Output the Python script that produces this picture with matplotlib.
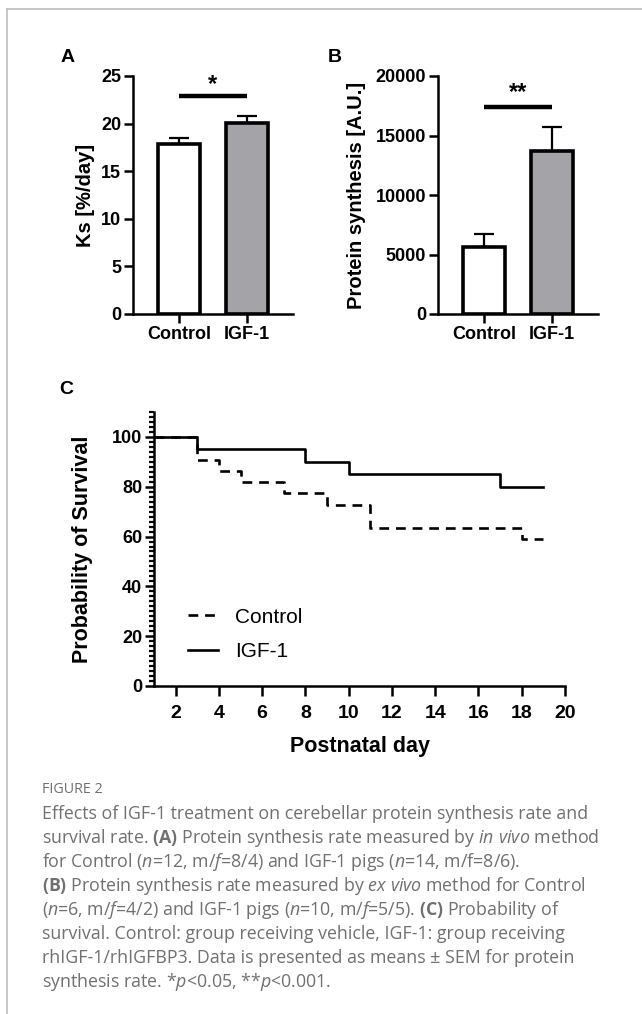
import matplotlib
matplotlib.use("Agg")
import matplotlib.pyplot as plt
from matplotlib.lines import Line2D

plt.rcParams['font.family'] = ['Liberation Sans', 'DejaVu Sans']
plt.rcParams['mathtext.fontset'] = 'custom'
plt.rcParams['mathtext.rm'] = 'Open Sans'
plt.rcParams['mathtext.it'] = 'Open Sans:italic'
plt.rcParams['mathtext.bf'] = 'Open Sans:bold'

# --- data ---
groups = ['Control', 'IGF-1']
ks_mean = [17.9, 20.1]
ks_sem = [0.6, 0.7]
ps_mean = [5600, 13700]
ps_sem = [1100, 2000]

ctrl_days = [1, 3, 4, 5, 7, 9, 11, 18, 19]
ctrl_surv = [100, 90.9, 86.4, 81.8, 77.3, 72.7, 63.6, 59.1, 59.1]
igf_days = [1, 3, 8, 10, 17, 19]
igf_surv = [100, 95, 90, 85, 80, 80]

bar_colors = ['white', '#a3a3a8']

fig = plt.figure(figsize=(6.42, 10.14), dpi=100)
W, H = 642.0, 1014.0

def box(l, t, r, b):
    return [l / W, 1 - b / H, (r - l) / W, (b - t) / H]

def style_axes(ax, size=13):
    for s in ['top', 'right']:
        ax.spines[s].set_visible(False)
    for s in ['left', 'bottom']:
        ax.spines[s].set_linewidth(1.8)
    ax.tick_params(width=1.8, length=6.5, labelsize=size, pad=2)

def bold_ticks(ax):
    for lab in ax.get_xticklabels() + ax.get_yticklabels():
        lab.set_fontweight('bold')

def bar_panel(ax, means, sems, ymax, ystep, ylabel, sig_y, star_y, stars):
    x = [0, 1]
    ax.errorbar(x, means, yerr=[[0, 0], sems], fmt='none', ecolor='black',
                elinewidth=1.6, capsize=7.5, capthick=1.6, zorder=1)
    ax.bar(x, means, width=0.62, color=bar_colors, edgecolor='black',
           linewidth=2.6, zorder=2)
    ax.plot([0, 1], [sig_y, sig_y], color='black', lw=3.2, solid_capstyle='butt')
    ax.text(0.5, star_y, stars, ha='center', va='baseline', fontsize=17,
            fontweight='bold', clip_on=False)
    ax.set_xlim(-0.676, 1.676)
    ax.set_ylim(0, ymax)
    ax.set_yticks(range(0, ymax + 1, ystep))
    ax.set_xticks(x)
    ax.set_xticklabels(groups)
    ax.set_ylabel(ylabel, fontsize=14.5, fontweight='bold')
    style_axes(ax)
    bold_ticks(ax)

axA = fig.add_axes(box(133, 76, 293, 314))
bar_panel(axA, ks_mean, ks_sem, 25, 5, 'Ks [%/day]', 22.9, 23.4, '*')
axA.yaxis.set_label_coords(-0.24, 0.5)

axB = fig.add_axes(box(438, 76, 598, 314))
bar_panel(axB, ps_mean, ps_sem, 20000, 5000, 'Protein synthesis [A.U.]', 17400, 18100, '**')
axB.yaxis.set_label_coords(-0.45, 0.5)

# --- survival panel ---
axC = fig.add_axes(box(154, 412, 565, 686))
axC.step(ctrl_days, ctrl_surv, where='post', color='black', lw=1.9,
         linestyle=(0, (3.7, 2.6)), label='Control')
axC.step(igf_days, igf_surv, where='post', color='black', lw=1.9, label='IGF-1')
axC.set_xlim(1, 20)
axC.set_ylim(0, 110)
axC.set_xticks(range(2, 21, 2))
axC.set_yticks(range(0, 101, 20))
axC.set_yticks(range(0, 111, 2), minor=True)
axC.set_xlabel('Postnatal day', fontsize=15.5, fontweight='bold', labelpad=10)
axC.set_ylabel('Probability of Survival', fontsize=15.5, fontweight='bold')
axC.yaxis.set_label_coords(-0.148, 0.5)
style_axes(axC)
axC.tick_params(axis='x', labelsize=14, pad=6, length=7.5)
axC.tick_params(axis='y', which='minor', length=3.5, width=1.6)
bold_ticks(axC)
axC.legend(loc='center left', bbox_to_anchor=(0.083, 0.188), frameon=False,
           fontsize=15, handlelength=1.45, handletextpad=0.8, labelspacing=0.75,
           borderpad=0, borderaxespad=0)

# panel letters
fig.text(61 / W, 1 - 62 / H, 'A', fontsize=14, fontweight='bold')
fig.text(328 / W, 1 - 62 / H, 'B', fontsize=14, fontweight='bold')
fig.text(59 / W, 1 - 394 / H, 'C', fontsize=14, fontweight='bold')

# frame
fig.add_artist(Line2D([7 / W, 7 / W], [0, 1 - 9 / H], color='#bdbdbd', lw=1.2))
fig.add_artist(Line2D([7 / W, 1], [1 - 9 / H, 1 - 9 / H], color='#bdbdbd', lw=1.2))

# caption
cap_color = '#707070'
fig.text(42 / W, 1 - 793 / H, 'FIGURE 2', fontsize=10.3, color=cap_color,
         family='Open Sans')
caption = [
    r'Effects of IGF-1 treatment on cerebellar protein synthesis rate and',
    r'survival rate. $\mathbf{(A)}$ Protein synthesis rate measured by $\mathit{in\ vivo}$ method',
    r'for Control ($\mathit{n}$=12, m/$\mathit{f}$=8/4) and IGF-1 pigs ($\mathit{n}$=14, m/f=8/6).',
    r'$\mathbf{(B)}$ Protein synthesis rate measured by $\mathit{ex\ vivo}$ method for Control',
    r'($\mathit{n}$=6, m/$\mathit{f}$=4/2) and IGF-1 pigs ($\mathit{n}$=10, m/$\mathit{f}$=5/5). $\mathbf{(C)}$ Probability of',
    r'survival. Control: group receiving vehicle, IGF-1: group receiving',
    r'rhIGF-1/rhIGFBP3. Data is presented as means ± SEM for protein',
    r'synthesis rate. *$\mathit{p}$<0.05, **$\mathit{p}$<0.001.',
]
for i, line in enumerate(caption):
    fig.text(42 / W, 1 - (819 + 24.0 * i) / H, line, fontsize=12.8,
             color=cap_color, family='Open Sans')

fig.savefig('out.png', dpi=100)
